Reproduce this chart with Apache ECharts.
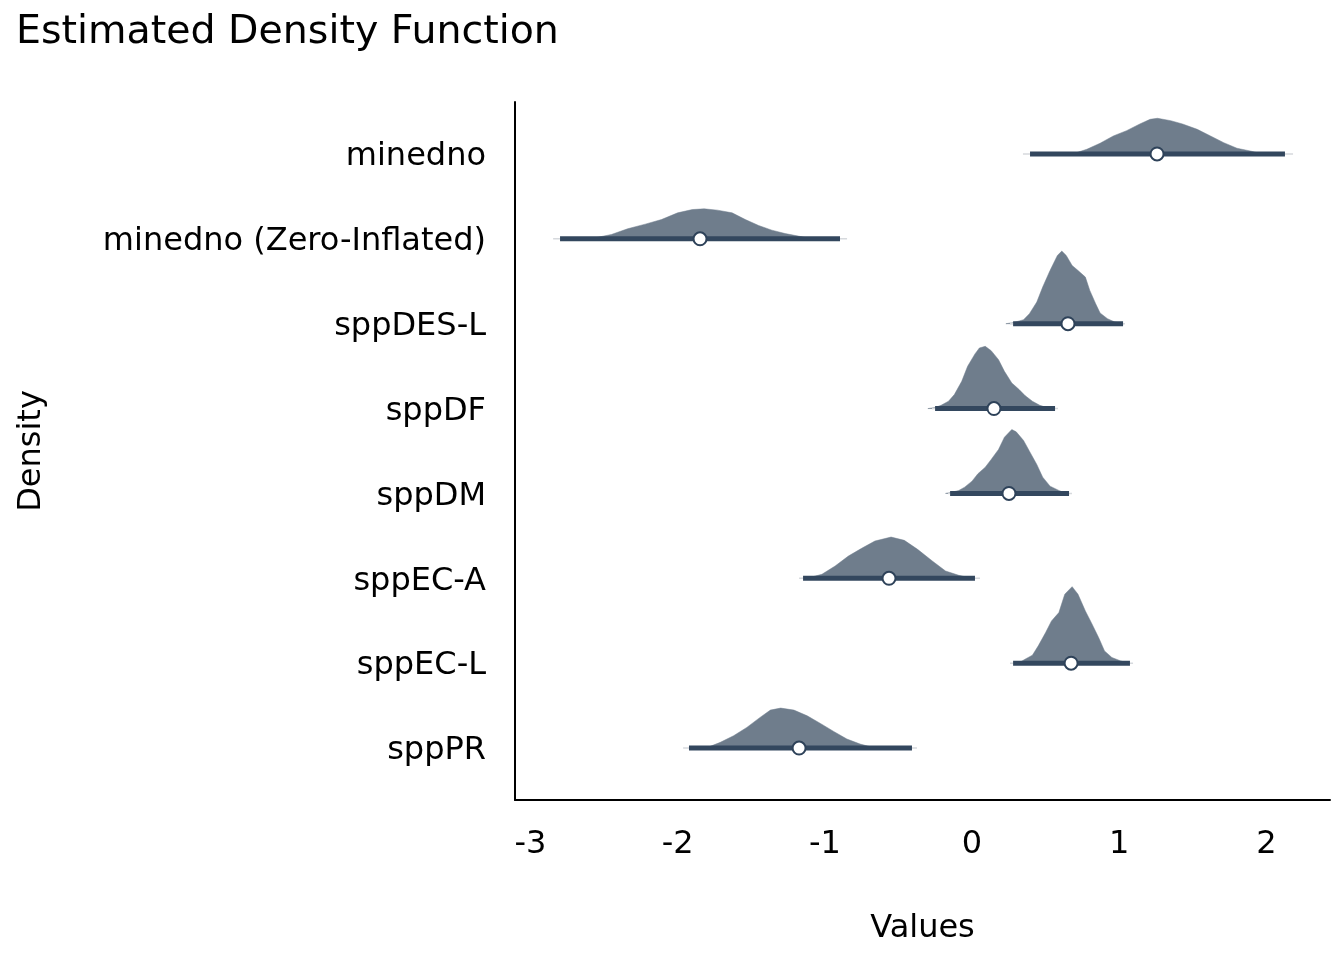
<!DOCTYPE html>
<html>
<head>
<meta charset="utf-8">
<title>Estimated Density Function</title>
<script src="https://cdn.jsdelivr.net/npm/echarts@6/dist/echarts.min.js"></script>
<style>
  html, body { margin: 0; padding: 0; background: #fff; }
  #chart { width: 1344px; height: 960px; }
</style>
</head>
<body>
<div id="chart"></div>
<script>
// rows, top to bottom
var categories = ['minedno', 'minedno (Zero-Inflated)', 'sppDES-L', 'sppDF', 'sppDM', 'sppEC-A', 'sppEC-L', 'sppPR'];
var medians = [1.257, -1.848, 0.652, 0.149, 0.251, -0.564, 0.673, -1.175];
var innerLo = [0.394, -2.799, 0.279, -0.251, -0.149, -1.148, 0.279, -1.923];
var innerHi = [2.126, -0.897, 1.026, 0.564, 0.659, 0.020, 1.073, -0.408];
var outerLo = [0.346, -2.846, 0.258, -0.272, -0.163, -1.175, 0.258, -1.963];
var outerHi = [2.181, -0.849, 1.039, 0.584, 0.679, 0.054, 1.094, -0.374];
var xTicks = [-3, -2, -1, 0, 1, 2];

// density outline per row: [value, height in row units]
var densMinedno = [[0.60,0],[0.69,0.004],[0.78,0.055],[0.87,0.126],[0.96,0.212],[1.05,0.274],[1.14,0.353],[1.21,0.408],[1.26,0.42],[1.35,0.392],[1.43,0.353],[1.53,0.29],[1.62,0.212],[1.71,0.133],[1.80,0.067],[1.89,0.035],[1.96,0.004],[2.05,0]];
var densZeroInfl = [[-2.65,0],[-2.56,0.012],[-2.45,0.051],[-2.34,0.118],[-2.22,0.173],[-2.11,0.227],[-2.00,0.306],[-1.90,0.345],[-1.82,0.353],[-1.73,0.338],[-1.63,0.306],[-1.54,0.227],[-1.45,0.157],[-1.36,0.102],[-1.27,0.062],[-1.18,0.032],[-1.09,0]];
var densDESL = [[0.23,0],[0.28,0.012],[0.35,0.047],[0.39,0.118],[0.44,0.255],[0.48,0.431],[0.53,0.627],[0.58,0.804],[0.61,0.855],[0.64,0.804],[0.68,0.686],[0.72,0.627],[0.77,0.549],[0.80,0.392],[0.84,0.235],[0.87,0.126],[0.92,0.059],[0.97,0.02],[1.03,0]];
var densDF = [[-0.30,0],[-0.25,0.012],[-0.21,0.039],[-0.16,0.086],[-0.12,0.165],[-0.07,0.321],[-0.03,0.498],[0.02,0.644],[0.05,0.714],[0.09,0.733],[0.13,0.682],[0.18,0.576],[0.22,0.439],[0.27,0.302],[0.32,0.224],[0.36,0.153],[0.41,0.086],[0.46,0.039],[0.53,0]];
var densDM = [[-0.18,0],[-0.14,0.012],[-0.09,0.035],[-0.05,0.074],[0.00,0.145],[0.04,0.232],[0.09,0.309],[0.13,0.4],[0.18,0.518],[0.22,0.662],[0.27,0.753],[0.30,0.726],[0.35,0.624],[0.39,0.498],[0.44,0.341],[0.48,0.192],[0.53,0.086],[0.59,0.035],[0.64,0]];
var densECA = [[-1.15,0],[-1.11,0.006],[-1.02,0.047],[-0.93,0.145],[-0.84,0.262],[-0.75,0.353],[-0.66,0.439],[-0.55,0.486],[-0.46,0.447],[-0.37,0.341],[-0.27,0.204],[-0.18,0.086],[-0.09,0.035],[0.00,0]];
var densECL = [[0.28,0],[0.32,0.006],[0.36,0.047],[0.41,0.094],[0.45,0.204],[0.50,0.361],[0.54,0.498],[0.59,0.596],[0.63,0.812],[0.68,0.902],[0.72,0.812],[0.77,0.615],[0.81,0.479],[0.86,0.302],[0.90,0.145],[0.95,0.067],[1.01,0.027],[1.06,0]];
var densPR = [[-1.90,0],[-1.80,0.006],[-1.71,0.067],[-1.62,0.145],[-1.53,0.243],[-1.44,0.361],[-1.37,0.447],[-1.30,0.471],[-1.21,0.447],[-1.12,0.38],[-1.03,0.29],[-0.94,0.196],[-0.85,0.106],[-0.76,0.047],[-0.67,0.006],[-0.60,0]];

var ridges = [densMinedno, densZeroInfl, densDESL, densDF, densDM, densECA, densECL, densPR];

var nRows = categories.length;
var FONT = 'DejaVu Sans';

// row 0 sits at the top of the axis
function rowBase(i) {
    return nRows - 1 - i;
}

var rowData = categories.map(function (c, i) {
    return [medians[i], rowBase(i)];
});

var chart = echarts.init(document.getElementById('chart'));

chart.setOption({
    animation: false,
    backgroundColor: '#fff',
    title: {
        text: 'Estimated Density Function',
        left: 16,
        top: 13,
        padding: 0,
        textStyle: { fontFamily: FONT, fontSize: 39.5, fontWeight: 'normal', color: '#000' }
    },
    grid: { left: 515, right: 14, top: 102, bottom: 160, containLabel: false },
    xAxis: {
        type: 'value',
        min: -3.105,
        max: 2.432,
        name: 'Values',
        nameLocation: 'middle',
        nameGap: 113,
        nameTextStyle: { fontFamily: FONT, fontSize: 32, color: '#000' },
        axisLine: { show: true, onZero: false, lineStyle: { color: '#000', width: 2 } },
        axisTick: { show: false },
        splitLine: { show: false },
        axisLabel: {
            customValues: xTicks,
            margin: 29,
            fontFamily: FONT,
            fontSize: 32,
            color: '#000'
        }
    },
    yAxis: {
        type: 'value',
        min: -0.612,
        max: 7.612,
        name: 'Density',
        nameLocation: 'middle',
        nameRotate: 90,
        nameGap: 467,
        nameTextStyle: { fontFamily: FONT, fontSize: 32, color: '#000' },
        axisLine: { show: true, onZero: false, lineStyle: { color: '#000', width: 2 } },
        axisTick: { show: false },
        splitLine: { show: false },
        axisLabel: {
            customValues: categories.map(function (c, i) { return i; }),
            margin: 29,
            color: '#000',
            formatter: function (v) {
                return '{n|' + categories[nRows - 1 - Math.round(v)] + '}';
            },
            rich: {
                n: { fontFamily: FONT, fontSize: 32, color: '#000', padding: [6, 0, 0, 0] }
            }
        }
    },
    series: [
        {
            // density ridges
            type: 'custom',
            z: 2,
            data: rowData,
            encode: { x: 0, y: 1 },
            renderItem: function (params, api) {
                var i = params.dataIndex;
                var base = rowBase(i);
                var pts = ridges[i];
                var poly = [api.coord([pts[0][0], base])];
                pts.forEach(function (p) {
                    poly.push(api.coord([p[0], base + p[1]]));
                });
                poly.push(api.coord([pts[pts.length - 1][0], base]));
                return {
                    type: 'polygon',
                    shape: { points: poly },
                    style: { fill: '#6F7D8C', stroke: '#6F7D8C', lineWidth: 0.5 }
                };
            }
        },
        {
            // intervals: faint outer, thick inner
            type: 'custom',
            z: 3,
            data: rowData,
            encode: { x: 0, y: 1 },
            renderItem: function (params, api) {
                var i = params.dataIndex;
                var base = rowBase(i);
                var o1 = api.coord([outerLo[i], base]);
                var o2 = api.coord([outerHi[i], base]);
                var n1 = api.coord([innerLo[i], base]);
                var n2 = api.coord([innerHi[i], base]);
                return {
                    type: 'group',
                    children: [
                        {
                            type: 'line',
                            shape: { x1: o1[0], y1: o1[1], x2: o2[0], y2: o2[1] },
                            style: { stroke: '#d6d9dd', lineWidth: 1.5 }
                        },
                        {
                            type: 'line',
                            shape: { x1: n1[0], y1: n1[1], x2: n2[0], y2: n2[1] },
                            style: { stroke: '#33475E', lineWidth: 5 }
                        }
                    ]
                };
            }
        },
        {
            // medians
            type: 'scatter',
            z: 4,
            data: rowData,
            symbol: 'circle',
            symbolSize: 13,
            itemStyle: { color: '#fff', borderColor: '#2E4259', borderWidth: 2, opacity: 1 }
        }
    ]
});
</script>
</body>
</html>
